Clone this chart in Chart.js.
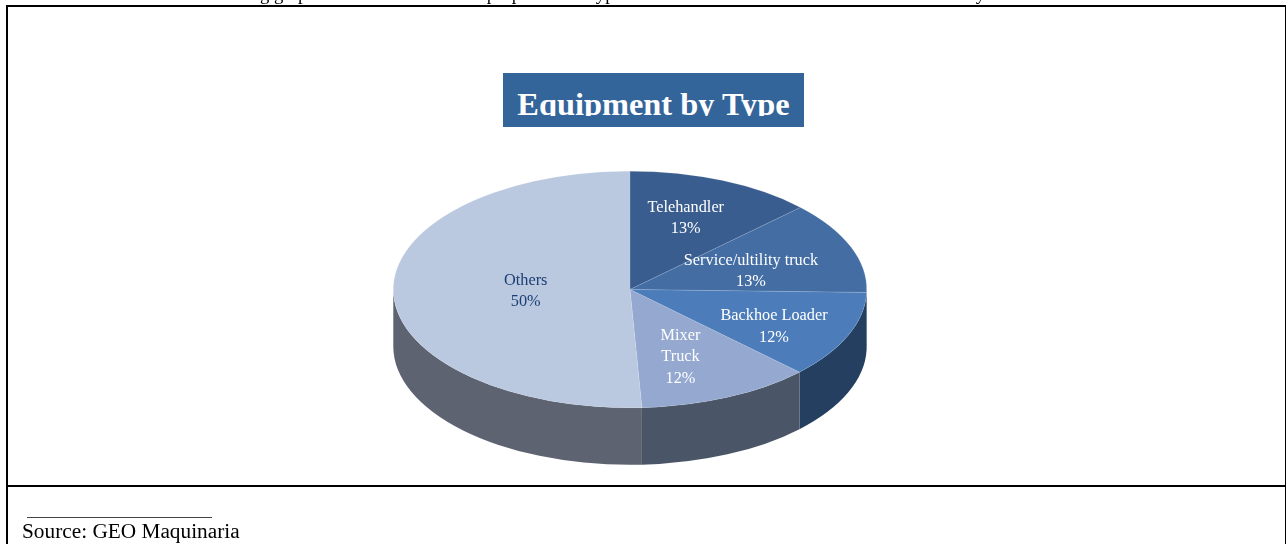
<!DOCTYPE html>
<html>
<head>
<meta charset="utf-8">
<title>Equipment by Type</title>
<script src="https://cdn.jsdelivr.net/npm/chart.js@4"></script>
<style>
    html, body { margin: 0; padding: 0; background: #fff; }
    body { position: relative; width: 1286px; height: 544px; overflow: hidden; font-family: "Liberation Serif", serif; color: #000; }
    #chart { position: absolute; left: 0; top: 0; }
    .intro { position: absolute; left: 0; top: 0; width: 1286px; height: 5px; overflow: hidden; will-change: opacity; }
    .intro span { position: absolute; left: 163px; top: -17px; font-size: 18.7px; line-height: 22px; white-space: nowrap; }
    .frame { position: absolute; background: #000; }
    .titleBox { position: absolute; left: 503px; top: 73px; width: 301px; height: 54px; background: #34659a; }
    .titleClip { position: absolute; left: 0; top: 0; width: 301px; height: 43px; overflow: hidden; text-align: center; }
    .titleClip span { display: block; margin-top: 12px; color: #fff; font-size: 32.4px; line-height: 38px; font-weight: bold; white-space: nowrap; }
    .rule { position: absolute; left: 27px; top: 517px; width: 185px; height: 1px; background: #444; }
    .source { position: absolute; left: 22px; top: 519px; font-size: 21.3px; line-height: 25px; white-space: nowrap; will-change: opacity; }
</style>
</head>
<body>
<div class="intro"><span>The following graph illustrates the relative proportion of type of machines contracted in the whole markets by</span></div>
<div class="frame" style="left:6px;top:5px;width:1279px;height:2px"></div>
<div class="frame" style="left:6px;top:5px;width:2px;height:539px"></div>
<div class="frame" style="left:1285px;top:5px;width:1px;height:539px"></div>
<div class="frame" style="left:6px;top:485px;width:1280px;height:2px"></div>
<div class="titleBox"><div class="titleClip"><span>Equipment by Type</span></div></div>
<canvas id="chart" width="1286" height="544"></canvas>
<div class="rule"></div>
<div class="source">Source: GEO Maquinaria</div>

<script>
// Datos
const categories = ['Telehandler', 'Service/ultility truck', 'Backhoe Loader', 'Mixer Truck', 'Others'];
const shares = [12.8, 12.6, 11.9, 11.9, 50.8];
const shareLabels = ['13%', '13%', '12%', '12%', '50%'];
const topColors = ['#3a5d8f', '#446ea3', '#4c7dba', '#94a8d0', '#bac8e0'];
const wallColors = ['#253f60', '#253f60', '#253f60', '#4a5568', '#5d6370'];
const labelColors = ['#fff', '#fff', '#fff', '#fff', '#1b3f73'];

// el pie se aplasta para que parezca inclinado
const squash = 0.5;
const depth = 57;

// linea de cada etiqueta, y ajuste respecto al centro del sector
const labelLines = [['Telehandler'], ['Service/ultility truck'], ['Backhoe Loader'], ['Mixer', 'Truck'], ['Others']];
const labelNudge = [[2, -8], [-7, 6.5], [17.5, 10.5], [-6, 5], [33, 0]];

function squashedTransform(ctx, cy) {
    ctx.translate(0, cy);
    ctx.scale(1, squash);
    ctx.translate(0, -cy);
}

const tiltPlugin = {
    id: 'tilt',
    beforeDatasetsDraw(chart) {
        const ctx = chart.ctx;
        chart.getDatasetMeta(0).data.forEach((arc, i) => {
            const p = arc.getProps(['x', 'y', 'startAngle', 'endAngle', 'outerRadius'], true);
            const from = Math.max(p.startAngle, 0);
            const to = Math.min(p.endAngle, Math.PI);
            if (to <= from) return;
            const ry = p.outerRadius * squash;
            ctx.beginPath();
            ctx.ellipse(p.x, p.y, p.outerRadius, ry, 0, from, to);
            ctx.ellipse(p.x, p.y + depth, p.outerRadius, ry, 0, to, from, true);
            ctx.closePath();
            ctx.fillStyle = wallColors[i];
            ctx.fill();
        });
        ctx.save();
        squashedTransform(ctx, chart.getDatasetMeta(0).data[0].y);
    },
    afterDatasetsDraw(chart) {
        const ctx = chart.ctx;
        ctx.restore();
        ctx.save();
        ctx.font = '16.3px "Liberation Serif"';
        ctx.textAlign = 'center';
        ctx.textBaseline = 'middle';
        chart.getDatasetMeta(0).data.forEach((arc, i) => {
            const p = arc.getProps(['x', 'y', 'startAngle', 'endAngle', 'outerRadius'], true);
            const mid = (p.startAngle + p.endAngle) / 2;
            const x = p.x + 0.58 * p.outerRadius * Math.cos(mid) + labelNudge[i][0];
            const y = p.y + 0.58 * p.outerRadius * squash * Math.sin(mid) + labelNudge[i][1];
            const lines = labelLines[i].concat(shareLabels[i]);
            const top = y - (lines.length - 1) * 21.3 / 2;
            ctx.fillStyle = labelColors[i];
            lines.forEach((line, n) => ctx.fillText(line, x, top + n * 21.3));
        });
        ctx.restore();
    }
};

new Chart(document.getElementById('chart').getContext('2d'), {
    type: 'pie',
    data: {
        labels: categories,
        datasets: [{
            data: shares,
            backgroundColor: topColors,
            borderColor: 'rgba(255, 255, 255, 0.25)',
            borderWidth: 0.6,
            clip: false
        }]
    },
    options: {
        responsive: false,
        animation: false,
        layout: { padding: { left: 393, right: 419, top: 52.5, bottom: 17.5 } },
        plugins: {
            legend: { display: false },
            tooltip: { enabled: false }
        }
    },
    plugins: [tiltPlugin]
});
</script>
</body>
</html>
